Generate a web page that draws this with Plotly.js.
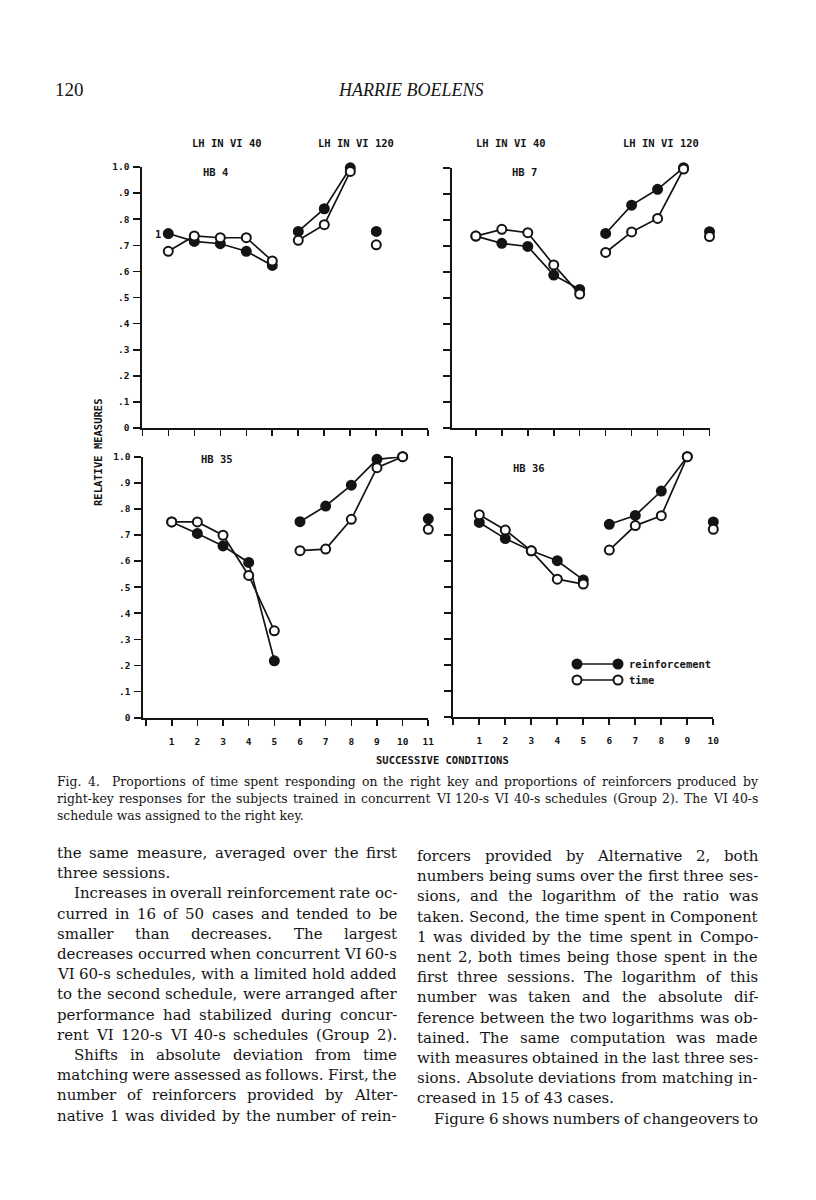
<!DOCTYPE html>
<html>
<head>
<meta charset="utf-8">
<script src="https://cdn.plot.ly/plotly-3.0.1.min.js"></script>
<style>
html,body{margin:0;padding:0;background:#fff;}
#chart{width:816px;height:1200px;}
</style>
</head>
<body>
<div id="chart"></div>
<script>
// ---------------- DATA ----------------
const hb4_cond  = [1,2,3,4,5,6,7,8,9];
const hb4_phase = [1,1,1,1,1,2,2,2,3];
const hb4_reinf = [0.745,0.715,0.706,0.677,0.623,0.753,0.840,0.997,0.753];
const hb4_time  = [0.677,0.736,0.729,0.729,0.640,0.719,0.779,0.983,0.702];

const hb7_cond  = [1,2,3,4,5,6,7,8,9,10];
const hb7_phase = [1,1,1,1,1,2,2,2,2,3];
const hb7_reinf = [0.737,0.709,0.697,0.587,0.532,0.747,0.856,0.917,1.000,0.754];
const hb7_time  = [0.737,0.763,0.750,0.626,0.514,0.674,0.753,0.805,0.995,0.735];

const hb35_cond  = [1,2,3,4,5,6,7,8,9,10,11];
const hb35_phase = [1,1,1,1,1,2,2,2,2,2,3];
const hb35_reinf = [0.750,0.706,0.658,0.595,0.218,0.751,0.811,0.891,0.990,1.000,0.762];
const hb35_time  = [0.750,0.750,0.699,0.545,0.333,0.640,0.646,0.760,0.958,1.000,0.722];

const hb36_cond  = [1,2,3,4,5,6,7,8,9,10];
const hb36_phase = [1,1,1,1,1,2,2,2,2,3];
const hb36_reinf = [0.747,0.685,0.638,0.600,0.526,0.740,0.774,0.868,1.000,0.749];
const hb36_time  = [0.777,0.718,0.638,0.529,0.510,0.641,0.735,0.773,1.000,0.721];

const yTickVals  = [0,0.1,0.2,0.3,0.4,0.5,0.6,0.7,0.8,0.9,1.0];
const yTickText  = ["0",".1",".2",".3",".4",".5",".6",".7",".8",".9","1.0"];
const xTickVals11 = [0,1,2,3,4,5,6,7,8,9,10,11];
const xTickText11 = ["","1","2","3","4","5","6","7","8","9","10","11"];
const xTickVals10 = [0,1,2,3,4,5,6,7,8,9,10];
const xTickText10 = ["","1","2","3","4","5","6","7","8","9","10"];

const seriesNames = ["reinforcement","time"];
const panelNames = ["HB 4","HB 7","HB 35","HB 36"];
const phaseLabels = ["LH IN VI 40","LH IN VI 120"];

const headerPage = "120";
const headerAuthor = "HARRIE BOELENS";
const yTitle = "RELATIVE MEASURES";
const xTitle = "SUCCESSIVE CONDITIONS";

const captionLines = [
  ["Fig. 4.  Proportions of time spent responding on the right key and proportions of reinforcers produced by", true],
  ["right-key responses for the subjects trained in concurrent VI 120-s VI 40-s schedules (Group 2). The VI 40-s", true],
  ["schedule was assigned to the right key.", false]
];
// [text, justified, indented]
const leftColumn = [
  ["the same measure, averaged over the first", true, false],
  ["three sessions.", false, false],
  ["Increases in overall reinforcement rate oc-", true, true],
  ["curred in 16 of 50 cases and tended to be", true, false],
  ["smaller than decreases. The largest", true, false],
  ["decreases occurred when concurrent VI 60-s", true, false],
  ["VI 60-s schedules, with a limited hold added", true, false],
  ["to the second schedule, were arranged after", true, false],
  ["performance had stabilized during concur-", true, false],
  ["rent VI 120-s VI 40-s schedules (Group 2).", true, false],
  ["Shifts in absolute deviation from time", true, true],
  ["matching were assessed as follows. First, the", true, false],
  ["number of reinforcers provided by Alter-", true, false],
  ["native 1 was divided by the number of rein-", true, false]
];
const rightColumn = [
  ["forcers provided by Alternative 2, both", true, false],
  ["numbers being sums over the first three ses-", true, false],
  ["sions, and the logarithm of the ratio was", true, false],
  ["taken. Second, the time spent in Component", true, false],
  ["1 was divided by the time spent in Compo-", true, false],
  ["nent 2, both times being those spent in the", true, false],
  ["first three sessions. The logarithm of this", true, false],
  ["number was taken and the absolute dif-", true, false],
  ["ference between the two logarithms was ob-", true, false],
  ["tained. The same computation was made", true, false],
  ["with measures obtained in the last three ses-", true, false],
  ["sions. Absolute deviations from matching in-", true, false],
  ["creased in 15 of 43 cases.", false, false],
  ["Figure 6 shows numbers of changeovers to", true, true]
];

// ---------------- LAYOUT HELPERS ----------------
const W = 816, H = 1200;
const fx = p => p / W;
const fy = p => 1 - p / H;
const INK = '#141414';
const MONO = 'DejaVu Sans Mono';
const SERIF = 'Liberation Serif';
const BODY = 'DejaVu Serif';

const traces = [];
function addSeries(cond, vals, phase, xa, ya, filled, name) {
  const groups = {};
  const order = [];
  cond.forEach((c, i) => {
    const p = phase[i];
    if (!groups[p]) { groups[p] = {x: [], y: []}; order.push(p); }
    groups[p].x.push(c);
    groups[p].y.push(vals[i]);
  });
  order.forEach(p => {
    traces.push({
      type: 'scatter', mode: 'lines+markers', name: name,
      x: groups[p].x, y: groups[p].y, xaxis: xa, yaxis: ya,
      line: {color: INK, width: 1.7},
      marker: {size: 9, symbol: 'circle', color: filled ? INK : '#ffffff', line: {color: INK, width: 2}},
      cliponaxis: false, showlegend: false, hoverinfo: 'skip'
    });
  });
}
addSeries(hb4_cond, hb4_reinf, hb4_phase, 'x', 'y', true, seriesNames[0]);
addSeries(hb4_cond, hb4_time, hb4_phase, 'x', 'y', false, seriesNames[1]);
addSeries(hb7_cond, hb7_reinf, hb7_phase, 'x2', 'y2', true, seriesNames[0]);
addSeries(hb7_cond, hb7_time, hb7_phase, 'x2', 'y2', false, seriesNames[1]);
addSeries(hb35_cond, hb35_reinf, hb35_phase, 'x3', 'y3', true, seriesNames[0]);
addSeries(hb35_cond, hb35_time, hb35_phase, 'x3', 'y3', false, seriesNames[1]);
addSeries(hb36_cond, hb36_reinf, hb36_phase, 'x4', 'y4', true, seriesNames[0]);
addSeries(hb36_cond, hb36_time, hb36_phase, 'x4', 'y4', false, seriesNames[1]);

const tickFont = {family: MONO, size: 9.5, color: INK, weight: 'bold'};
function xAxis(domain, range, vals, text, showLabels, anchor) {
  return {
    domain: [fx(domain[0]), fx(domain[1])], range: range, anchor: anchor,
    showgrid: false, zeroline: false, showline: true, linecolor: INK, linewidth: 2,
    ticks: 'outside', ticklen: 6, tickwidth: 1.6, tickcolor: INK,
    tickvals: vals, ticktext: text, showticklabels: showLabels,
    ticklabelstandoff: 8, tickfont: tickFont, fixedrange: true
  };
}
function yAxis(domain, showLabels, anchor) {
  return {
    domain: [fy(domain[1]), fy(domain[0])], range: [0, 1], anchor: anchor,
    showgrid: false, zeroline: false, showline: true, linecolor: INK, linewidth: 2,
    ticks: 'outside', ticklen: 7, tickwidth: 1.6, tickcolor: INK,
    tickvals: yTickVals, ticktext: yTickText, showticklabels: showLabels,
    ticklabelstandoff: 2, tickfont: tickFont, fixedrange: true
  };
}

const annotations = [];
function addText(text, x, y, font, opts) {
  annotations.push(Object.assign({
    xref: 'paper', yref: 'paper', x: fx(x), y: fy(y), text: text,
    showarrow: false, xanchor: 'center', yanchor: 'middle', font: font,
    borderpad: 0, borderwidth: 0
  }, opts || {}));
}

const labelFont = {family: MONO, size: 10.5, color: INK, weight: 'bold'};
addText(phaseLabels[0], 227, 143, labelFont);
addText(phaseLabels[1], 356, 143, labelFont);
addText(phaseLabels[0], 511, 143, labelFont);
addText(phaseLabels[1], 661, 143, labelFont);
addText(panelNames[0], 215, 172, labelFont);
addText(panelNames[1], 524, 172, labelFont);
addText(panelNames[2], 217, 459, labelFont);
addText(panelNames[3], 529, 468, labelFont);
addText("1", 158, 234, labelFont);
addText(yTitle, 98, 453, labelFont, {textangle: -90});
addText(xTitle, 443, 760, labelFont);

// legend
const shapes = [];
function legendRow(y, filled, label) {
  shapes.push({type: 'line', xref: 'paper', yref: 'paper', x0: fx(577), x1: fx(618), y0: fy(y), y1: fy(y),
    line: {color: INK, width: 1.7}});
  [577, 618].forEach(cx => {
    shapes.push({type: 'circle', xref: 'paper', yref: 'paper',
      x0: fx(cx - 4.5), x1: fx(cx + 4.5), y0: fy(y + 4.5), y1: fy(y - 4.5),
      fillcolor: filled ? INK : '#ffffff', line: {color: INK, width: 2}});
  });
  addText(label, 629, y, labelFont, {xanchor: 'left'});
}
legendRow(664, true, seriesNames[0]);
legendRow(680, false, seriesNames[1]);

// header
addText(headerPage, 55, 90, {family: SERIF, size: 19, color: INK}, {xanchor: 'left'});
addText(headerAuthor, 410, 90, {family: SERIF, size: 18, color: INK, style: 'italic'});

// justified text
const canvas = document.createElement('canvas');
const ctx = canvas.getContext('2d');
function measure(t, size) { ctx.font = size + "px '" + BODY + "'"; return ctx.measureText(t).width; }
function setLine(text, x0, x1, y, size, justify) {
  const tokens = text.split(' ');
  let widths = tokens.map(t => t ? measure(t, size) : 0);
  let total = widths.reduce((a, b) => a + b, 0);
  const minGap = size * 0.25;
  const need = total + minGap * (tokens.length - 1);
  if (need > x1 - x0) {
    size = size * (x1 - x0) / need;
    widths = tokens.map(t => t ? measure(t, size) : 0);
    total = widths.reduce((a, b) => a + b, 0);
  }
  const font = {family: BODY, size: size, color: INK};
  if (!justify) { addText(text, x0, y, font, {xanchor: 'left'}); return; }
  const gap = (x1 - x0 - total) / (tokens.length - 1);
  let x = x0;
  tokens.forEach((t, i) => {
    if (t) addText(t, x, y, font, {xanchor: 'left'});
    x += widths[i] + gap;
  });
}
captionLines.forEach((l, i) => setLine(l[0], 57, 758, 781 + i * 17.3, 12.4, l[1]));
leftColumn.forEach((l, i) => setLine(l[0], 57 + (l[2] ? 17 : 0), 397, 853 + i * 20.2, 15.0, l[1]));
rightColumn.forEach((l, i) => setLine(l[0], 417 + (l[2] ? 17 : 0), 758, 856 + i * 20.2, 15.0, l[1]));

const layout = {
  width: W, height: H, margin: {l: 0, r: 0, t: 0, b: 0},
  paper_bgcolor: '#ffffff', plot_bgcolor: 'rgba(0,0,0,0)', showlegend: false,
  xaxis:  xAxis([142.3, 428.3], [0, 11], xTickVals11, xTickText11, false, 'y'),
  yaxis:  yAxis([167, 428], true, 'x'),
  xaxis2: xAxis([451.7, 709.5], [0.07, 10], xTickVals10, xTickText10, false, 'y2'),
  yaxis2: yAxis([167.7, 427.7], false, 'x2'),
  xaxis3: xAxis([143.3, 428.3], [-0.107, 11], xTickVals11, xTickText11, true, 'y3'),
  yaxis3: yAxis([456.7, 717.7], true, 'x3'),
  xaxis4: xAxis([453.3, 713.3], [0, 10], xTickVals10, xTickText10, true, 'y4'),
  yaxis4: yAxis([456.7, 716.7], false, 'x4'),
  annotations: annotations, shapes: shapes
};
Plotly.newPlot('chart', traces, layout, {staticPlot: true, displayModeBar: false});
</script>
</body>
</html>
